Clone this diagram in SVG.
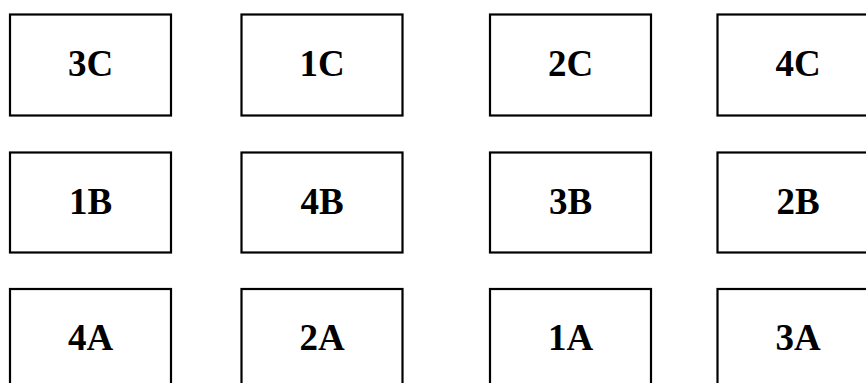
<svg xmlns="http://www.w3.org/2000/svg" width="866" height="383" viewBox="0 0 866 383">
<style>
.box{fill:#fff;stroke:#000;stroke-width:2.2}
.lbl{font-family:"Liberation Serif","Times New Roman",serif;font-weight:bold;font-size:37px;fill:#000;text-anchor:middle}
</style>
<rect width="866" height="383" fill="#fff"/>
<g id="n3C"><rect class="box" x="10" y="14.5" width="161" height="101"/><text class="lbl" x="90.5" y="76">3C</text></g>
<g id="n1C"><rect class="box" x="241.5" y="14.5" width="161" height="101"/><text class="lbl" x="322" y="76">1C</text></g>
<g id="n2C"><rect class="box" x="490" y="14.5" width="161" height="101"/><text class="lbl" x="570.5" y="76">2C</text></g>
<g id="n4C"><rect class="box" x="717.5" y="14.5" width="161" height="101"/><text class="lbl" x="798" y="76">4C</text></g>
<g id="n1B"><rect class="box" x="10" y="152.5" width="161" height="100"/><text class="lbl" x="90.5" y="214">1B</text></g>
<g id="n4B"><rect class="box" x="241.5" y="152.5" width="161" height="100"/><text class="lbl" x="322" y="214">4B</text></g>
<g id="n3B"><rect class="box" x="490" y="152.5" width="161" height="100"/><text class="lbl" x="570.5" y="214">3B</text></g>
<g id="n2B"><rect class="box" x="717.5" y="152.5" width="161" height="100"/><text class="lbl" x="798" y="214">2B</text></g>
<g id="n4A"><rect class="box" x="10" y="289" width="161" height="101"/><text class="lbl" x="90.5" y="350">4A</text></g>
<g id="n2A"><rect class="box" x="241.5" y="289" width="161" height="101"/><text class="lbl" x="322" y="350">2A</text></g>
<g id="n1A"><rect class="box" x="490" y="289" width="161" height="101"/><text class="lbl" x="570.5" y="350">1A</text></g>
<g id="n3A"><rect class="box" x="717.5" y="289" width="161" height="101"/><text class="lbl" x="798" y="350">3A</text></g>
<g id="connectors"/>
</svg>
